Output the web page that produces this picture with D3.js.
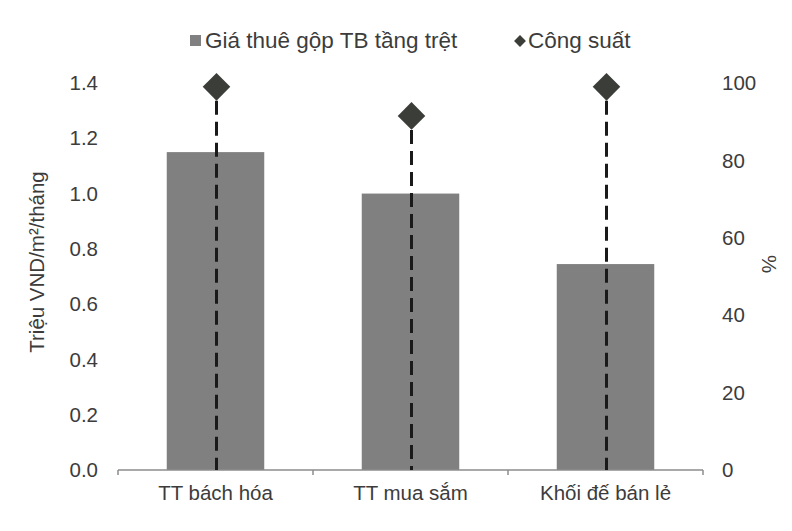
<!DOCTYPE html>
<html>
<head>
<meta charset="utf-8">
<script src="https://cdn.jsdelivr.net/npm/d3@7"></script>
<style>
  html, body { margin: 0; padding: 0; background: #fff; }
  svg { display: block; font-family: "Liberation Sans", Arial, sans-serif; }
</style>
</head>
<body>
<svg id="chart" width="792" height="531"></svg>
<script>
const categories = ["TT bách hóa", "TT mua sắm", "Khối đế bán lẻ"];
const rentValues = [1.15, 1.0, 0.745];
const occupancyValues = [99, 91.5, 99];
const leftTicks = [0, 0.2, 0.4, 0.6, 0.8, 1.0, 1.2, 1.4];
const rightTicks = [0, 20, 40, 60, 80, 100];
const legendLabels = ["Giá thuê gộp TB tầng trệt", "Công suất"];
const leftTitle = "Triệu VND/m²/tháng";
const rightTitle = "%";

const svg = d3.select("#chart");
const W = 792, H = 531;
svg.append("rect").attr("width", W).attr("height", H).attr("fill", "#fff");

const x0 = 118, x1 = 703, yBase = 470, yTop = 83;

const x = d3.scaleBand().domain(categories).range([x0, x1]).paddingInner(0.5).paddingOuter(0.25);
const yL = d3.scaleLinear().domain([0, 1.4]).range([yBase, yTop]);
const yR = d3.scaleLinear().domain([0, 100]).range([yBase, yTop]);

const textColor = "#3c3c3c";
const barColor = "#808080";
const fs = 20.5;

// Bars
svg.append("g").selectAll("rect").data(categories).join("rect")
  .attr("x", d => x(d))
  .attr("width", x.bandwidth())
  .attr("y", (d, i) => yL(rentValues[i]))
  .attr("height", (d, i) => yBase - yL(rentValues[i]))
  .attr("fill", barColor);

// X axis line with boundary ticks
const band = (x1 - x0) / categories.length;
const xAxisG = svg.append("g");
xAxisG.append("line").attr("x1", x0).attr("x2", x1).attr("y1", yBase).attr("y2", yBase)
  .attr("stroke", "#8c8c8c").attr("stroke-width", 1.5);
d3.range(categories.length + 1).forEach(i => {
  const xx = x0 + i * band;
  xAxisG.append("line").attr("x1", xx).attr("x2", xx).attr("y1", yBase).attr("y2", yBase + 5)
    .attr("stroke", "#8c8c8c").attr("stroke-width", 1.5);
});
xAxisG.selectAll("text.cat").data(categories).join("text")
  .attr("class", "cat")
  .attr("x", d => x(d) + x.bandwidth() / 2)
  .attr("y", 500)
  .attr("text-anchor", "middle")
  .attr("font-size", fs)
  .attr("fill", textColor)
  .text(d => d);

// Left axis labels
svg.append("g").selectAll("text").data(leftTicks).join("text")
  .attr("x", 98).attr("y", d => yL(d)).attr("dy", "0.35em")
  .attr("text-anchor", "end").attr("font-size", fs).attr("fill", textColor)
  .text(d => d3.format(".1f")(d));

// Right axis labels
svg.append("g").selectAll("text").data(rightTicks).join("text")
  .attr("x", 722).attr("y", d => yR(d)).attr("dy", "0.35em")
  .attr("text-anchor", "start").attr("font-size", fs).attr("fill", textColor)
  .text(d => d);

// Axis titles
svg.append("text").attr("transform", `translate(44,262) rotate(-90)`)
  .attr("text-anchor", "middle").attr("font-size", fs).attr("fill", textColor)
  .text(leftTitle);
svg.append("text").attr("transform", `translate(762,264) rotate(90)`)
  .attr("text-anchor", "middle").attr("font-size", fs).attr("fill", textColor)
  .text(rightTitle);

// Drop lines
svg.append("g").selectAll("line").data(categories).join("line")
  .attr("x1", d => x(d) + x.bandwidth() / 2 + 1)
  .attr("x2", d => x(d) + x.bandwidth() / 2 + 1)
  .attr("y1", (d, i) => yR(occupancyValues[i]) + 14)
  .attr("y2", yBase)
  .attr("stroke", "#1a1a1a").attr("stroke-width", 3)
  .attr("stroke-dasharray", "14,7");

// Diamonds
const diamond = d3.symbol().type(d3.symbolSquare).size(380);
svg.append("g").selectAll("path").data(categories).join("path")
  .attr("transform", (d, i) => `translate(${x(d) + x.bandwidth() / 2 + 1},${yR(occupancyValues[i])}) rotate(45)`)
  .attr("d", diamond)
  .attr("fill", "#3a3d38");

// Legend
const leg = svg.append("g");
leg.append("rect").attr("x", 190).attr("y", 35).attr("width", 11).attr("height", 11).attr("fill", barColor);
leg.append("text").attr("x", 205).attr("y", 48).attr("font-size", 22.5).attr("fill", textColor)
  .text(legendLabels[0]);
leg.append("path").attr("d", d3.symbol().type(d3.symbolSquare).size(70))
  .attr("transform", "translate(520,41) rotate(45)").attr("fill", "#3a3d38");
leg.append("text").attr("x", 528).attr("y", 48).attr("font-size", 22.5).attr("fill", textColor)
  .text(legendLabels[1]);
</script>
</body>
</html>
